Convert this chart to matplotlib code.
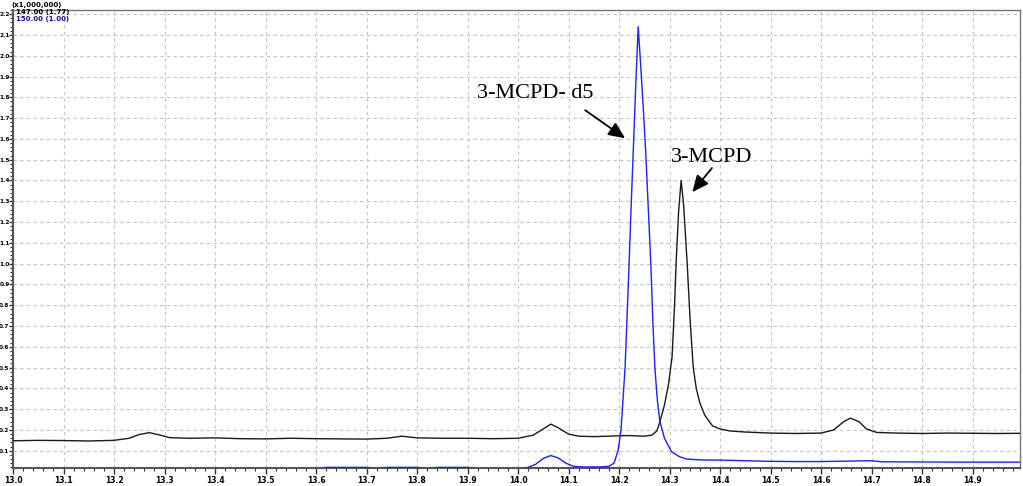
import matplotlib
matplotlib.use("Agg")
import matplotlib.pyplot as plt
from matplotlib.ticker import MultipleLocator, FormatStrFormatter

# ---- data (retention time [min], intensity [x1,000,000]) ----
black_t = [13.00, 13.05, 13.10, 13.15, 13.20, 13.23, 13.25, 13.27, 13.29, 13.31,
           13.35, 13.40, 13.45, 13.50, 13.55, 13.60, 13.65, 13.70, 13.74, 13.77,
           13.80, 13.85, 13.90, 13.95, 14.00, 14.03, 14.05, 14.065, 14.08, 14.10,
           14.12, 14.15, 14.18, 14.20, 14.22, 14.25, 14.265, 14.275, 14.281, 14.29,
           14.298, 14.305, 14.31, 14.313, 14.318, 14.323, 14.328, 14.335, 14.341, 14.347,
           14.353, 14.36, 14.37, 14.385, 14.40, 14.42, 14.45, 14.50, 14.55, 14.60,
           14.625, 14.645, 14.658, 14.675, 14.69, 14.71, 14.75, 14.80, 14.85, 14.90,
           14.95, 15.00]
black_y = [0.148, 0.150, 0.149, 0.147, 0.150, 0.160, 0.178, 0.187, 0.176, 0.163,
           0.160, 0.162, 0.158, 0.157, 0.160, 0.158, 0.157, 0.156, 0.160, 0.170,
           0.162, 0.160, 0.160, 0.158, 0.160, 0.175, 0.205, 0.228, 0.210, 0.180,
           0.170, 0.168, 0.170, 0.172, 0.173, 0.170, 0.175, 0.195, 0.240, 0.320,
           0.420, 0.550, 0.800, 1.000, 1.250, 1.400, 1.280, 1.000, 0.720, 0.500,
           0.400, 0.330, 0.270, 0.220, 0.205, 0.195, 0.190, 0.185, 0.183, 0.185,
           0.200, 0.240, 0.257, 0.240, 0.205, 0.188, 0.185, 0.183, 0.185, 0.184,
           0.183, 0.184]

blue_t = [13.00, 13.60, 13.62, 13.70, 13.72, 13.74, 13.80, 13.82, 13.84, 13.90,
          13.92, 14.00, 14.02, 14.035, 14.05, 14.065, 14.08, 14.095, 14.11, 14.13,
          14.16, 14.18, 14.19, 14.198, 14.204, 14.212, 14.220, 14.223, 14.228, 14.233,
          14.238, 14.243, 14.248, 14.253, 14.259, 14.263, 14.267, 14.271, 14.276, 14.281,
          14.290, 14.304, 14.320, 14.334, 14.36, 14.40, 14.45, 14.50, 14.55, 14.60,
          14.65, 14.70, 14.72, 14.80, 14.90, 15.00]
blue_y = [0.008, 0.008, 0.020, 0.020, 0.012, 0.020, 0.020, 0.012, 0.020, 0.020,
          0.008, 0.008, 0.020, 0.035, 0.063, 0.077, 0.065, 0.040, 0.025, 0.022,
          0.022, 0.025, 0.040, 0.100, 0.200, 0.500, 1.000, 1.210, 1.530, 1.850,
          2.140, 1.950, 1.750, 1.530, 1.210, 1.000, 0.720, 0.500, 0.340, 0.240,
          0.160, 0.095, 0.071, 0.060, 0.056, 0.055, 0.052, 0.049, 0.048, 0.048,
          0.050, 0.052, 0.047, 0.046, 0.045, 0.045]

label_d5 = "3-MCPD- d5"
label_mcpd = "3-MCPD"
legend_lines = ["(x1,000,000)", "147.00 (1.77)", "150.00 (1.00)"]

fig = plt.figure(figsize=(10.23, 4.86), dpi=100)
ax = fig.add_axes([13 / 1023, 18 / 486, 1007 / 1023, 458 / 486])

ax.plot(black_t, black_y, color="#1a1a1a", lw=1.0, zorder=3)
ax.plot(blue_t, blue_y, color="#1f1fff", lw=1.0, zorder=3)

ax.set_xlim(13.0, 14.994)
ax.set_ylim(0.017, 2.22)

ax.xaxis.set_major_locator(MultipleLocator(0.1))
ax.xaxis.set_minor_locator(MultipleLocator(0.02))
ax.yaxis.set_major_locator(MultipleLocator(0.1))
ax.yaxis.set_minor_locator(MultipleLocator(0.02))
ax.xaxis.set_major_formatter(FormatStrFormatter("%.1f"))
ax.yaxis.set_major_formatter(FormatStrFormatter("%.1f"))

ax.grid(True, which="major", color="#c4c4c4", linestyle=(0, (3, 3)), lw=0.8, zorder=0)
ax.tick_params(axis="x", which="major", length=4, width=1, labelsize=5.5, pad=1.5, colors="#333333")
ax.tick_params(axis="y", which="major", length=3, width=1, labelsize=4.2, pad=-0.5, colors="#333333")
ax.tick_params(which="minor", length=2.5, width=0.8, colors="#333333")
for lab in ax.get_xticklabels() + ax.get_yticklabels():
    lab.set_fontweight("bold")
    lab.set_color("black")

for s in ["left", "bottom"]:
    ax.spines[s].set_color("#555555")
    ax.spines[s].set_linewidth(1.5)
for s in ["top", "right"]:
    ax.spines[s].set_color("#777777")
    ax.spines[s].set_linewidth(1.0)

# header labels
fig.text(11 / 1023, 1 - 5 / 486, legend_lines[0], fontsize=5, fontweight="bold", va="center", ha="left", color="black")
fig.text(16 / 1023, 1 - 12 / 486, legend_lines[1], fontsize=5, fontweight="bold", va="center", ha="left", color="black")
fig.text(16 / 1023, 1 - 19 / 486, legend_lines[2], fontsize=5, fontweight="bold", va="center", ha="left", color="#1010a0")

arrow = dict(arrowstyle="-|>,head_length=1.0,head_width=0.45", color="black", lw=1.3, shrinkA=0, shrinkB=0)
ax.annotate("", xy=(14.212, 1.603), xytext=(14.133, 1.738), arrowprops=arrow)
ax.annotate("", xy=(14.345, 1.344), xytext=(14.384, 1.46), arrowprops=arrow)
ax.text(14.034, 1.82, label_d5, fontsize=16, family="Liberation Serif", ha="center", va="center")
ax.text(14.384, 1.51, label_mcpd, fontsize=16, family="Liberation Serif", ha="center", va="center")

fig.savefig("out.png", dpi=100)
